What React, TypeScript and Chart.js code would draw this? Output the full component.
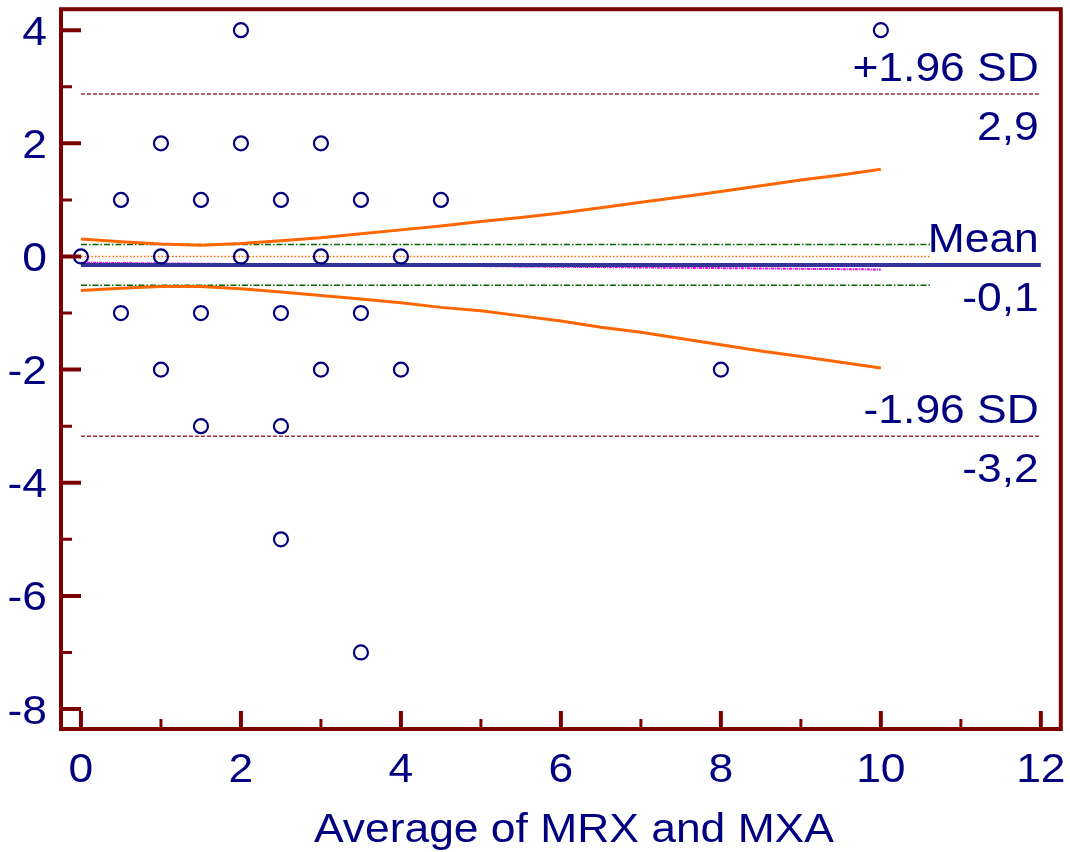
import React, { useEffect, useRef } from "react";
import { Chart, registerables } from "chart.js";

Chart.register(...registerables);

// ---- data ----
const pointX = [0, 0.5, 0.5, 1, 1, 1, 1.5, 1.5, 1.5, 2, 2, 2, 2.5, 2.5, 2.5, 2.5, 3, 3, 3, 3.5, 3.5, 3.5, 4, 4, 4.5, 8, 10];
const pointY = [0, 1, -1, 2, 0, -2, 1, -1, -3, 4, 2, 0, 1, -1, -3, -5, 2, 0, -2, 1, -1, -7, 0, -2, 1, -2, 4];

const meanValue = -0.15;
const upperLimit = 2.87;
const lowerLimit = -3.18;
const ciUpper = 0.21;
const ciLower = -0.51;
const limitLineX = [0, 12];
const ciLineX = [0, 10.62];
const regressionX = [0, 10];
const regressionY = [-0.11, -0.23];

const curveX = [0, 0.5, 1, 1.5, 2, 2.5, 3, 3.5, 4, 4.5, 5, 5.5, 6, 6.5, 7, 7.5, 8, 8.5, 9, 9.5, 10];
const curveUpper = [0.31, 0.26, 0.22, 0.2, 0.23, 0.28, 0.33, 0.4, 0.47, 0.54, 0.62, 0.69, 0.77, 0.86, 0.96, 1.05, 1.15, 1.25, 1.35, 1.44, 1.54];
const curveLower = [-0.6, -0.56, -0.53, -0.53, -0.57, -0.63, -0.69, -0.75, -0.82, -0.9, -0.96, -1.05, -1.14, -1.25, -1.34, -1.45, -1.56, -1.67, -1.77, -1.87, -1.97];

const xMajorTicks = [0, 2, 4, 6, 8, 10, 12];
const xMinorTicks = [1, 3, 5, 7, 9, 11];
const yMajorTicks = [-8, -6, -4, -2, 0, 2, 4];
const yMinorTicks = [-7, -5, -3, -1, 1, 3];

const refValues = [upperLimit, meanValue, lowerLimit];
const refTopLabels = ["+1.96 SD", "Mean", "-1.96 SD"];
const refBottomLabels = ["2,9", "-0,1", "-3,2"];
const xTitle = "Average of MRX and MXA";

// ---- styles ----
const NAVY = "#000080";
const MAROON = "#7d0000";
const ORANGE = "#ff6600";
const STRETCH = 1.11;
const FONT = '"Liberation Sans", Arial, sans-serif';

function sText(ctx: CanvasRenderingContext2D, s: string, x: number, y: number, align: CanvasTextAlign, size: number) {
  ctx.save();
  ctx.translate(x, y);
  ctx.scale(STRETCH, 1);
  ctx.font = `${size}px ${FONT}`;
  ctx.fillStyle = NAVY;
  ctx.textAlign = align;
  ctx.textBaseline = "alphabetic";
  ctx.fillText(s, 0, 0);
  ctx.restore();
}

const framePlugin = {
  id: "framePlugin",
  afterDraw(chart: any) {
    const ctx: CanvasRenderingContext2D = chart.ctx;
    const xs = chart.scales.x;
    const ys = chart.scales.y;
    const { left, right, top, bottom } = chart.chartArea;
    ctx.save();
    ctx.strokeStyle = MAROON;
    ctx.lineWidth = 4;
    ctx.lineJoin = "miter";
    ctx.strokeRect(left, top, right - left, bottom - top);

    // y ticks (inside the frame)
    ctx.lineWidth = 4;
    ctx.beginPath();
    yMajorTicks.forEach((v) => {
      const y = ys.getPixelForValue(v);
      ctx.moveTo(left, y);
      ctx.lineTo(left + 20, y);
    });
    ctx.stroke();
    ctx.lineWidth = 3;
    ctx.beginPath();
    yMinorTicks.forEach((v) => {
      const y = ys.getPixelForValue(v);
      ctx.moveTo(left, y);
      ctx.lineTo(left + 11, y);
    });
    ctx.stroke();
    // x ticks (inside the frame)
    ctx.lineWidth = 4;
    ctx.beginPath();
    xMajorTicks.forEach((v) => {
      const x = xs.getPixelForValue(v);
      ctx.moveTo(x, bottom);
      ctx.lineTo(x, bottom - 18);
    });
    ctx.stroke();
    ctx.lineWidth = 3;
    ctx.beginPath();
    xMinorTicks.forEach((v) => {
      const x = xs.getPixelForValue(v);
      ctx.moveTo(x, bottom);
      ctx.lineTo(x, bottom - 10);
    });
    ctx.stroke();
    ctx.restore();

    // tick labels and axis title
    yMajorTicks.forEach((v) => {
      sText(ctx, String(v), left - 14, ys.getPixelForValue(v) + 14.5, "right", 40);
    });
    xMajorTicks.forEach((v) => {
      sText(ctx, String(v), xs.getPixelForValue(v), 782, "center", 40);
    });
    sText(ctx, xTitle, (left + right) / 2 + 13, 842, "center", 40);

    // reference line labels
    refValues.forEach((v, i) => {
      const y = ys.getPixelForValue(v);
      sText(ctx, refTopLabels[i], right - 22, y - 13, "right", 40);
      sText(ctx, refBottomLabels[i], right - 22, y + 46, "right", 40);
    });
  },
};

function lineSet(xs: number[], ys: number[], color: string, width: number, dash: number[], order: number) {
  return {
    type: "scatter" as const,
    data: xs.map((x, i) => ({ x, y: ys[i] })),
    showLine: true,
    borderColor: color,
    backgroundColor: color,
    borderWidth: width,
    borderDash: dash,
    pointRadius: 0,
    pointHoverRadius: 0,
    tension: 0,
    fill: false,
    order,
  };
}

export default function App() {
  const canvasRef = useRef<HTMLCanvasElement | null>(null);

  useEffect(() => {
    document.body.style.margin = "0";
    const canvas = canvasRef.current;
    if (!canvas) return;
    const chart = new Chart(canvas, {
      type: "scatter",
      data: {
        datasets: [
          {
            data: pointX.map((x, i) => ({ x, y: pointY[i] })),
            pointRadius: 7,
            pointBorderWidth: 2.2,
            borderColor: NAVY,
            backgroundColor: "rgba(0,0,0,0)",
            order: 0,
          } as any,
          lineSet(limitLineX, [meanValue, meanValue], "#333399", 4, [], 1),
          lineSet(regressionX, regressionY, "#ff00ff", 2, [3, 1, 1, 1], 2),
          lineSet(curveX, curveUpper, ORANGE, 3, [], 3),
          lineSet(curveX, curveLower, ORANGE, 3, [], 3),
          lineSet(ciLineX, [0, 0], ORANGE, 1.5, [1.5, 2], 4),
          lineSet(ciLineX, [ciUpper, ciUpper], "#006600", 1.5, [6, 2, 1.5, 2], 4),
          lineSet(ciLineX, [ciLower, ciLower], "#006600", 1.5, [6, 2, 1.5, 2], 4),
          lineSet(limitLineX, [upperLimit, upperLimit], "#993333", 1.5, [4, 2], 5),
          lineSet(limitLineX, [lowerLimit, lowerLimit], "#993333", 1.5, [4, 2], 5),
        ],
      },
      options: {
        animation: false,
        responsive: false,
        layout: { padding: { left: 61, right: 7, top: 9, bottom: 123 } },
        plugins: { legend: { display: false }, tooltip: { enabled: false } },
        scales: {
          x: { type: "linear", display: false, min: -0.2495, max: 12.2495 },
          y: { type: "linear", display: false, min: -8.353, max: 4.371 },
        },
      },
      plugins: [framePlugin],
    } as any);
    return () => chart.destroy();
  }, []);

  return (
    <div style={{ width: 1070, height: 852 }}>
      <canvas ref={canvasRef} width={1070} height={852} style={{ display: "block" }} />
    </div>
  );
}
